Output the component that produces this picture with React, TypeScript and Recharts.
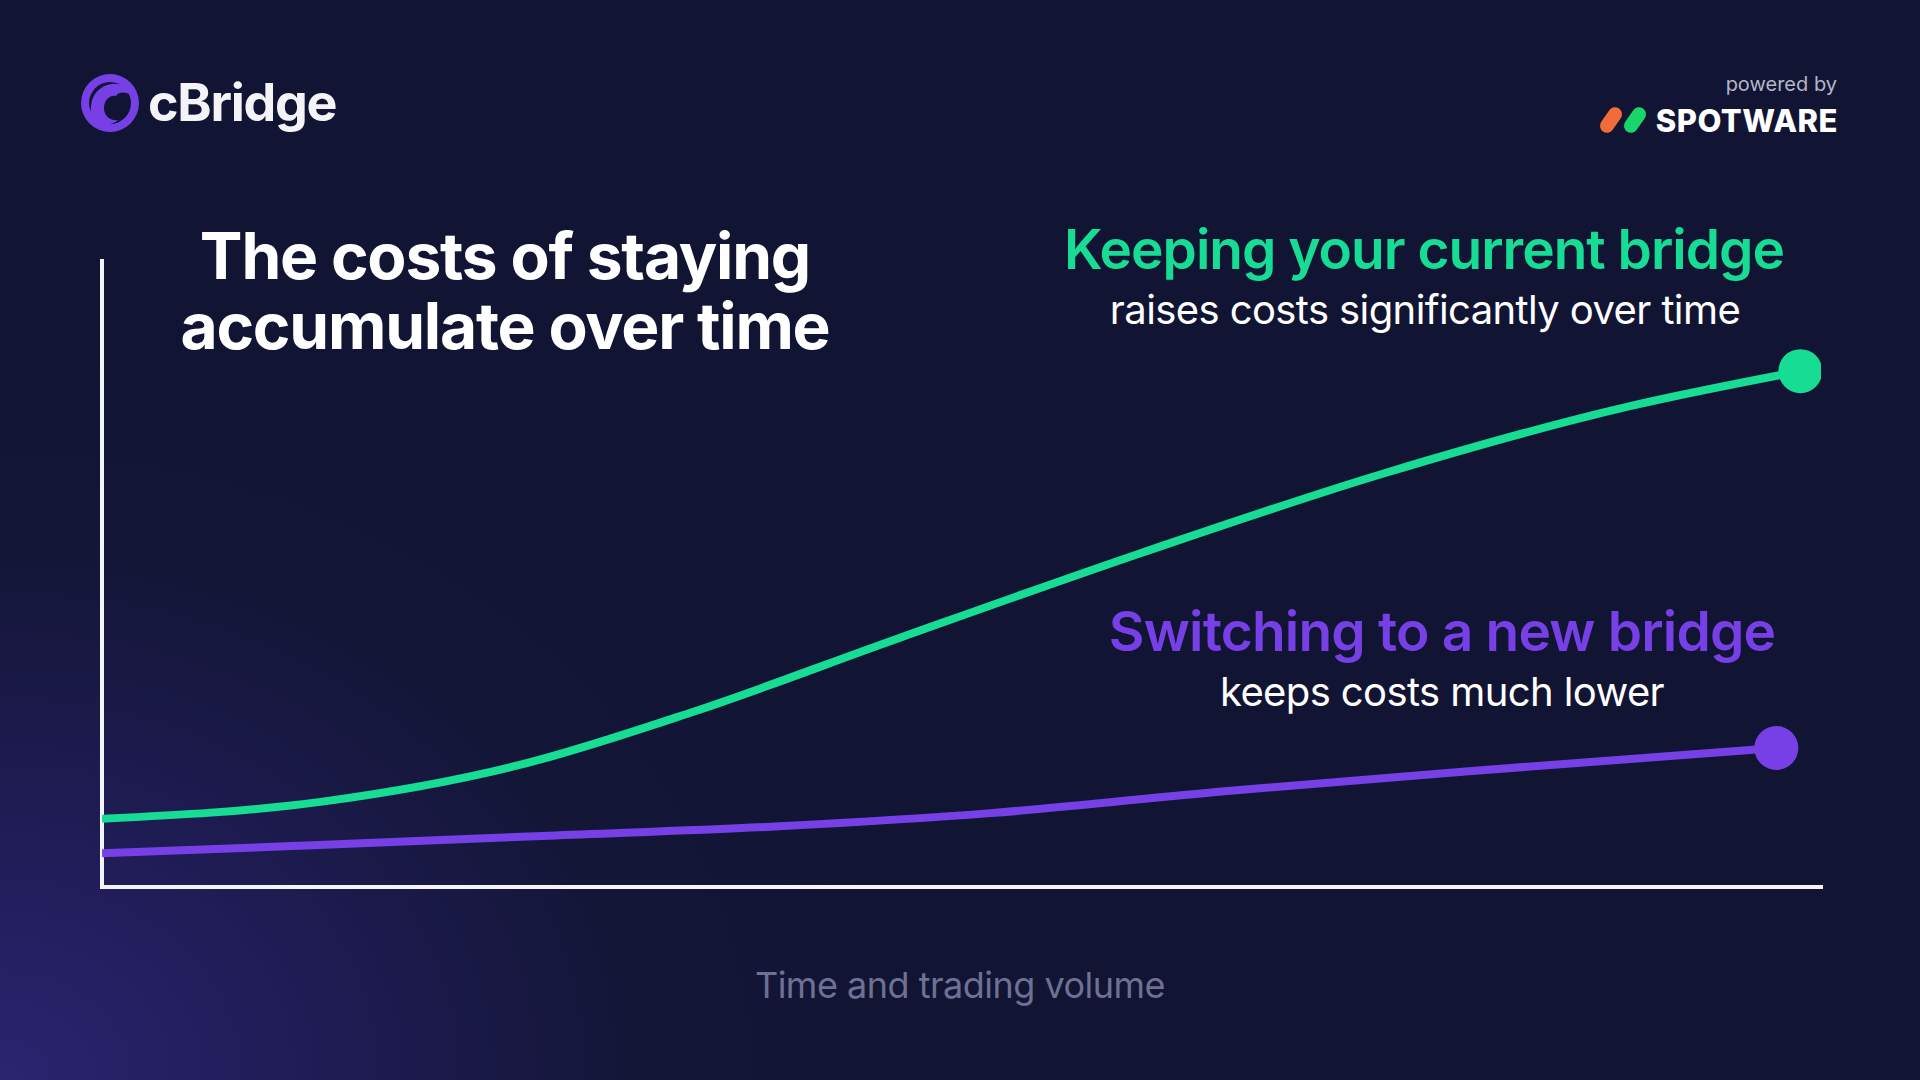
import React from "react";
import { LineChart, Line, XAxis, YAxis, ReferenceLine } from "recharts";

// x is share of the time/volume axis (0-100), y is relative cost (0-100)
const keepX = [0, 12.7, 24.3, 34.4, 46.1, 60.5, 74.6, 88.7, 98.8];
const keepY = [10.9, 13.6, 19.5, 28.0, 39.5, 53.4, 66.1, 76.7, 82.4];

const switchX = [0, 12.6, 26, 39.4, 51.7, 65.3, 79.5, 97.4];
const switchY = [5.4, 6.7, 8.2, 9.7, 11.8, 15.3, 18.5, 22.2];

const keepData = keepX.map((x, i) => ({ x, cost: keepY[i] }));
const switchData = switchX.map((x, i) => ({ x, cost: switchY[i] }));

const GREEN = "#17dc93";
const PURPLE = "#7740e6";
const AXIS = "#f4f4f8";
const FONT = "Inter, 'Noto Sans', sans-serif";

const endDot = (len: number, color: string) => (props: any) => {
  if (props.index !== len - 1) return <g key={`d-${props.index}`} />;
  return <circle key={`d-${props.index}`} cx={props.cx} cy={props.cy} r={22} fill={color} />;
};

export default function App() {
  return (
    <div
      style={{
        position: "absolute",
        left: 0,
        top: 0,
        width: 1920,
        height: 1080,
        overflow: "hidden",
        background:
          "radial-gradient(ellipse 900px 750px at 0% 100%, #2b2470 0%, #1f1c55 35%, #141638 70%, #111433 100%), #111433",
        fontFamily: FONT,
      }}
    >
      <div style={{ position: "absolute", left: 0, top: 0 }}>
        <LineChart width={1920} height={1080} margin={{ top: 261, right: 99, bottom: 193, left: 102 }}>
          <XAxis dataKey="x" type="number" domain={[0, 100]} allowDataOverflow hide />
          <YAxis type="number" domain={[0, 100]} allowDataOverflow hide />
          <ReferenceLine x={0} stroke={AXIS} strokeWidth={4} strokeLinecap="square" />
          <ReferenceLine y={0} stroke={AXIS} strokeWidth={4} strokeLinecap="square" />
          <Line
            data={switchData}
            dataKey="cost"
            type="monotone"
            stroke={PURPLE}
            strokeWidth={8}
            dot={endDot(switchData.length, PURPLE)}
            activeDot={false}
            isAnimationActive={false}
          />
          <Line
            data={keepData}
            dataKey="cost"
            type="monotone"
            stroke={GREEN}
            strokeWidth={8}
            dot={endDot(keepData.length, GREEN)}
            activeDot={false}
            isAnimationActive={false}
          />
        </LineChart>
      </div>

      <svg width={1920} height={1080} style={{ position: "absolute", left: 0, top: 0, pointerEvents: "none" }}>
        {/* cBridge logo */}
        <circle cx={110} cy={103} r={29} fill={PURPLE} />
        <circle cx={110} cy={103} r={21} fill="#111433" />
        <path d="M 92 118 C 88 100 96 86 112 84 C 122 83 130 88 132 96 C 126 91 118 92 116 96 C 110 95 104 100 104 108 C 104 116 110 121 118 120 C 112 126 100 126 92 118 Z" fill={PURPLE} />
        <text x={148} y={121} fill="#f4f4f8" fontSize={52} fontWeight={700} letterSpacing={-1.3}>
          cBridge
        </text>

        {/* powered by Spotware */}
        <text x={1837} y={91} fill="#b4b6c8" fontSize={20} textAnchor="end">
          powered by
        </text>
        <rect x={1604} y={106} width={14} height={28} rx={7} fill="#f26b3a" transform="rotate(35 1611 120)" />
        <rect x={1628} y={106} width={14} height={28} rx={7} fill="#19d66b" transform="rotate(35 1635 120)" />
        <text x={1838} y={132} fill="#ffffff" fontSize={31} fontWeight={800} textAnchor="end" letterSpacing={0.5}>
          SPOTWARE
        </text>

        {/* title */}
        <text x={505} y={279} fill="#ffffff" fontSize={64} fontWeight={700} textAnchor="middle" letterSpacing={-1.2}>
          The costs of staying
        </text>
        <text x={505} y={349} fill="#ffffff" fontSize={64} fontWeight={700} textAnchor="middle" letterSpacing={-1.2}>
          accumulate over time
        </text>

        {/* annotations */}
        <text x={1424} y={269} fill={GREEN} fontSize={55} fontWeight={600} textAnchor="middle" letterSpacing={-1}>
          Keeping your current bridge
        </text>
        <text x={1425} y={324} fill="#ffffff" fontSize={40} fontWeight={400} textAnchor="middle" letterSpacing={-0.6}>
          raises costs significantly over time
        </text>
        <text x={1442} y={651} fill={PURPLE} fontSize={55} fontWeight={600} textAnchor="middle" letterSpacing={-0.8}>
          Switching to a new bridge
        </text>
        <text x={1442} y={706} fill="#ffffff" fontSize={40} fontWeight={400} textAnchor="middle" letterSpacing={-0.6}>
          keeps costs much lower
        </text>

        {/* x axis caption */}
        <text x={960} y={998} fill="#6e7192" fontSize={36} fontWeight={400} textAnchor="middle" letterSpacing={-0.5}>
          Time and trading volume
        </text>
      </svg>
    </div>
  );
}
